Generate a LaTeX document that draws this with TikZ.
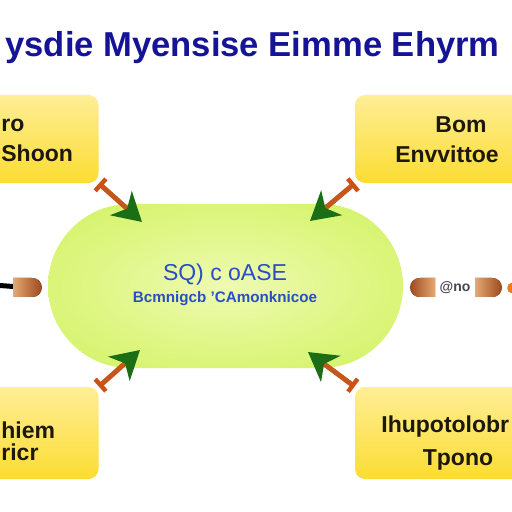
\documentclass[tikz,border=0pt]{standalone}
\usepackage{fontspec}
\setmainfont{Liberation Sans}
\usepackage{tikz}
\usetikzlibrary{arrows.meta}
\definecolor{titleblue}{RGB}{22,20,150}
\definecolor{hubblue}{RGB}{40,78,200}
\definecolor{ink}{RGB}{28,24,12}
\definecolor{panelTop}{RGB}{254,238,150}
\definecolor{panelBot}{RGB}{252,220,50}
\definecolor{hubin}{RGB}{238,250,178}
\definecolor{hubmid}{RGB}{222,246,130}
\definecolor{hubout}{RGB}{198,238,70}
\definecolor{shaftbrown}{RGB}{196,88,28}
\definecolor{tailred}{RGB}{205,80,20}
\definecolor{headgreen}{RGB}{28,110,22}
\definecolor{pillLight}{RGB}{228,168,118}
\definecolor{pillDark}{RGB}{150,62,18}
\definecolor{pillOrange}{RGB}{240,122,30}
\definecolor{pillGray}{RGB}{70,70,80}
\pgfdeclareradialshading{hubglow}{\pgfpoint{0bp}{0bp}}{color(0bp)=(hubin); color(20bp)=(hubmid); color(50bp)=(hubout)}

\begin{document}
\begin{tikzpicture}[x=0.5pt, y=-0.5pt,
    panel/.style={rectangle, rounded corners=5pt, inner sep=0pt,
      top color=panelTop, bottom color=panelBot,
      minimum width=95pt, minimum height=44pt},
    boxtext/.style={font=\bfseries\fontsize{11.5}{14}\selectfont, text=ink, inner sep=0pt},
    shaft/.style={line width=2.5pt, draw=shaftbrown,
      {Bar[width=8pt,line width=2.2pt,color=tailred]}-{Stealth[length=14pt,width=16pt,inset=4pt,color=headgreen]}}
]
\useasboundingbox (0,0) rectangle (512,512);
\clip (0,0) rectangle (512,512);
\fill[white] (0,0) rectangle (512,512);

% ---- Titulo ----
\node[anchor=base west, inner sep=0pt, text=titleblue,
  font=\bfseries\fontsize{17.3}{20}\selectfont] (title) at (5,57)
  {ysdie Myensise Eimme Ehyrm};

% ---- Cajas ----
\node[panel] (boxTL) at (3.5,139) {};
\node[panel] (boxTR) at (450,139) {};
\node[panel, minimum height=46pt] (boxBL) at (3.5,433) {};
\node[panel, minimum height=46pt] (boxBR) at (450,433) {};

\node[boxtext, anchor=base west] (tlA) at (1,132) {ro};
\node[boxtext, anchor=base west] (tlB) at (1,162) {Shoon};
\node[boxtext, anchor=base] (trA) at (461,133) {Bom};
\node[boxtext, anchor=base] (trB) at (447,163) {Envvittoe};
\node[boxtext, anchor=base west] (blA) at (1,438) {hiem};
\node[boxtext, anchor=base west] (blB) at (1,460) {ricr};
\node[boxtext, anchor=base west] (brA) at (381,432) {Ihupotolobr};
\node[boxtext, anchor=base] (brB) at (458,465) {Tpono};

% ---- Centro ----
\node[rectangle, rounded corners=41pt, inner sep=0pt, shading=hubglow,
  minimum width=177.5pt, minimum height=82pt] (hub) at (225.5,286) {};
\node[anchor=base, inner sep=0pt, text=hubblue,
  font=\fontsize{11.5}{14}\selectfont] (hubA) at (225,281) {SQ) c oASE};
\node[anchor=base, inner sep=0pt, text=hubblue,
  font=\bfseries\fontsize{7.6}{9}\selectfont] (hubB) at (225,302)
  {Bcmnigcb 'CAmonknicoe};

% ---- Flechas ----
\coordinate (tipTL) at (142,222);
\coordinate (tipTR) at (310,221);
\coordinate (tipBL) at (140,350);
\coordinate (tipBR) at (308,352);
\draw[shaft] (boxTL.south east) -- (tipTL);
\draw[shaft] (boxTR.south west) -- (tipTR);
\draw[shaft] (boxBL.north east) -- (tipBL);
\draw[shaft] (boxBR.north west) -- (tipBR);

% ---- Piezas laterales ----
\fill[black] (0,283) -- (13,284) -- (13,289) -- (0,288) -- cycle;
\fill[left color=pillLight, right color=pillDark]
  (13,278) -- (32,278) .. controls (45,278) and (45,297) .. (32,297) -- (13,297) -- cycle;
\fill[left color=pillDark, right color=pillLight]
  (435,278) -- (420,278) .. controls (407,278) and (407,297) .. (420,297) -- (435,297) -- cycle;
\node[inner sep=0pt, text=pillGray,
  font=\bfseries\fontsize{7}{8}\selectfont] (pillText) at (455,288) {@no};
\fill[left color=pillLight, right color=pillDark]
  (475,278) -- (492,278) .. controls (505,278) and (505,297) .. (492,297) -- (475,297) -- cycle;
\fill[pillOrange]
  (512,283) -- (511,283) .. controls (506,283) and (506,293) .. (511,293) -- (512,293) -- cycle;

\end{tikzpicture}
\end{document}
